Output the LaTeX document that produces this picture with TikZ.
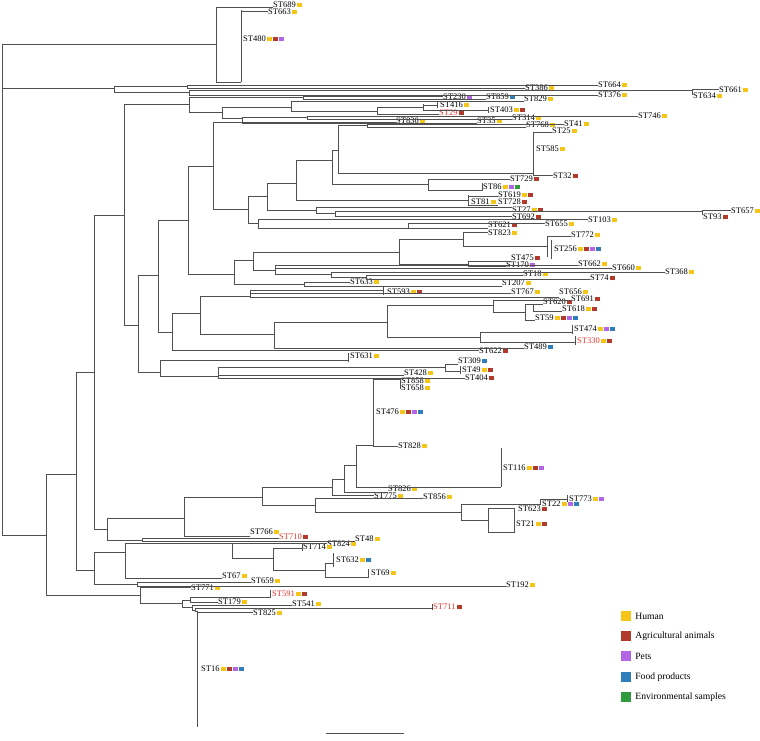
\documentclass[tikz,border=0pt]{standalone}
\usepackage{fontspec}
\setmainfont{Liberation Serif}
\usetikzlibrary{positioning}

\definecolor{human}{HTML}{F5C518}
\definecolor{agri}{HTML}{B23A2A}
\definecolor{pets}{HTML}{B266E6}
\definecolor{food}{HTML}{2F7DBA}
\definecolor{envi}{HTML}{2E9B3F}
\definecolor{strain}{HTML}{E5332A}
\definecolor{branch}{HTML}{505050}

\newcommand{\sqH}{\kern1.6pt\textcolor{human}{\rule[0.3pt]{4.4pt}{4.4pt}}}
\newcommand{\sqA}{\kern1.6pt\textcolor{agri}{\rule[0.3pt]{4.4pt}{4.4pt}}}
\newcommand{\sqP}{\kern1.6pt\textcolor{pets}{\rule[0.3pt]{4.4pt}{4.4pt}}}
\newcommand{\sqF}{\kern1.6pt\textcolor{food}{\rule[0.3pt]{4.4pt}{4.4pt}}}
\newcommand{\sqE}{\kern1.6pt\textcolor{envi}{\rule[0.3pt]{4.4pt}{4.4pt}}}

\tikzset{
  st/.style={anchor=west, inner sep=0pt, font=\fontsize{8.5}{9}\selectfont},
  stred/.style={st, text=strain},
  lg/.style={anchor=west, inner sep=0pt, font=\fontsize{9.6}{11}\selectfont},
  key/.style={minimum size=10pt, inner sep=0pt}
}

\begin{document}
\begin{tikzpicture}[x=1pt,y=-1pt]
\useasboundingbox (0,0) rectangle (760,741);

% tip labels
\node[st] (st689) at (273,5) {ST689\sqH};
\node[st] (st663) at (268,12) {ST663\sqH};
\node[st] (st480) at (243,39) {ST480\sqH\sqA\sqP};
\node[st] (st664) at (598,85) {ST664\sqH};
\node[st] (st386) at (525,88) {ST386\sqH};
\node[st] (st661) at (719,90) {ST661\sqH};
\node[st] (st634) at (693,96) {ST634\sqH};
\node[st] (st376) at (598,95) {ST376\sqH};
\node[st] (st230) at (443,96.5) {ST230\sqP};
\node[st] (st859) at (486,97) {ST859\sqF};
\node[st] (st829) at (524,99) {ST829\sqH};
\node[st] (st416) at (440,104.5) {ST416\sqH};
\node[st] (st403) at (490,110) {ST403\sqH\sqA};
\node[stred] (st29) at (439,113) {ST29\sqA};
\node[st] (st746) at (638,116) {ST746\sqH};
\node[st] (st314) at (512,118) {ST314\sqH};
\node[st] (st830) at (396,121) {ST830\sqH};
\node[st] (st35) at (477,121) {ST35\sqH};
\node[st] (st41) at (564,124) {ST41\sqH};
\node[st] (st768) at (526,125) {ST768\sqH};
\node[st] (st25) at (552,131) {ST25\sqH};
\node[st] (st585) at (536,149) {ST585\sqH};
\node[st] (st32) at (553,176) {ST32\sqA};
\node[st] (st729) at (510,179) {ST729\sqA};
\node[st] (st86) at (483,187) {ST86\sqH\sqP\sqE};
\node[st] (st619) at (498,194.5) {ST619\sqH\sqA};
\node[st] (st81) at (471,202) {ST81\sqH};
\node[st] (st728) at (498,202) {ST728\sqA};
\node[st] (st27) at (512,209.5) {ST27\sqH\sqA};
\node[st] (st692) at (512,216.5) {ST692\sqA};
\node[st] (st657) at (731,211) {ST657\sqH};
\node[st] (st93) at (703,217) {ST93\sqA};
\node[st] (st103) at (588,220) {ST103\sqH};
\node[st] (st655) at (545,224) {ST655\sqH};
\node[st] (st621) at (488,225) {ST621\sqA};
\node[st] (st823) at (488,233) {ST823\sqH};
\node[st] (st772) at (571,235) {ST772\sqH};
\node[st] (st256) at (554,249) {ST256\sqH\sqA\sqP\sqF};
\node[st] (st475) at (511,258) {ST475\sqA};
\node[st] (st170) at (506,265) {ST170\sqP};
\node[st] (st662) at (578,264) {ST662\sqH};
\node[st] (st660) at (612,268) {ST660\sqH};
\node[st] (st368) at (665,272) {ST368\sqH};
\node[st] (st18) at (523,274) {ST18\sqH};
\node[st] (st74) at (590,278) {ST74\sqA};
\node[st] (st633) at (350,282) {ST633\sqH};
\node[st] (st207) at (502,283) {ST207\sqH};
\node[st] (st593) at (387,292) {ST593\sqH\sqA};
\node[st] (st767) at (511,292) {ST767\sqH};
\node[st] (st656) at (559,292) {ST656\sqH};
\node[st] (st691) at (571,299) {ST691\sqA};
\node[st] (st620) at (543,302) {ST620\sqA};
\node[st] (st618) at (562,309) {ST618\sqH\sqA};
\node[st] (st59) at (535,318) {ST59\sqH\sqA\sqP\sqF};
\node[st] (st474) at (574,329) {ST474\sqH\sqP\sqF};
\node[stred] (st330) at (577,341) {ST330\sqH\sqA};
\node[st] (st489) at (524,347) {ST489\sqF};
\node[st] (st622) at (479,351) {ST622\sqA};
\node[st] (st631) at (350,356) {ST631\sqH};
\node[st] (st309) at (458,361) {ST309\sqF};
\node[st] (st49) at (462,370) {ST49\sqH\sqA};
\node[st] (st428) at (404,373) {ST428\sqH};
\node[st] (st404) at (465,378) {ST404\sqA};
\node[st] (st858) at (401,380.5) {ST858\sqH};
\node[st] (st658) at (401,387.5) {ST658\sqH};
\node[st] (st476) at (376,412) {ST476\sqH\sqA\sqP\sqF};
\node[st] (st828) at (398,446) {ST828\sqH};
\node[st] (st116) at (503,468) {ST116\sqH\sqA\sqP};
\node[st] (st826) at (388,489) {ST826\sqH};
\node[st] (st775) at (374,496) {ST775\sqH};
\node[st] (st856) at (423,497) {ST856\sqH};
\node[st] (st773) at (569,499) {ST773\sqH\sqP};
\node[st] (st22) at (542,504) {ST22\sqH\sqP\sqF};
\node[st] (st623) at (518,509) {ST623\sqA};
\node[st] (st21) at (516,524) {ST21\sqH\sqA};
\node[st] (st766) at (250,532) {ST766\sqH};
\node[stred] (st710) at (279,537) {ST710\sqA};
\node[st] (st48) at (355,539) {ST48\sqH};
\node[st] (st824) at (327,544) {ST824\sqH};
\node[st] (st714) at (303,547) {ST714\sqH};
\node[st] (st632) at (336,560) {ST632\sqH\sqF};
\node[st] (st69) at (371,573) {ST69\sqH};
\node[st] (st67) at (222,576) {ST67\sqH};
\node[st] (st659) at (251,581) {ST659\sqH};
\node[st] (st192) at (506,585) {ST192\sqH};
\node[st] (st771) at (191,588) {ST771\sqH};
\node[stred] (st591) at (272,594) {ST591\sqH\sqA};
\node[st] (st179) at (218,602) {ST179\sqH};
\node[st] (st541) at (292,604) {ST541\sqH};
\node[stred] (st711) at (433,607) {ST711\sqA};
\node[st] (st825) at (253,613) {ST825\sqH};
\node[st] (st16) at (201,669) {ST16\sqH\sqA\sqP\sqF};

\begin{scope}[draw=branch, line width=0.5pt]
% root and outer clades
\draw (2,44) -- (2,535);
\draw (2,44) -- (216,44);
\draw (2,88) -- (114,88);
\draw (2,535) -- (46,535);

\draw (216,7) -- (216,82);
\draw (216,7) -- (st689.west |- 0,7);
\draw (216,82) -- (241,82);
\draw (241,10) -- (241,82);
\draw (241,11) -- (st663.west |- 0,11);

\draw (114,86) -- (114,92);
\draw (114,86) -- (187,86);
\draw (187,85) -- (187,88);
\draw (187,85) -- (st664.west |- 0,85);
\draw (187,88) -- (st386.west |- 0,88);
\draw (114,92) -- (189,92);
\draw (189,90) -- (189,95);
\draw (189,90) -- (692,90);
\draw (692,89) -- (692,95);
\draw (692,89) -- (st661.west |- 0,89);
\draw (189,95) -- (st376.west |- 0,95);

% main backbone
\draw (46,474) -- (46,595);
\draw (46,474) -- (76,474);
\draw (76,372) -- (76,570);
\draw (76,372) -- (94,372);
\draw (94,215) -- (94,529);
\draw (94,215) -- (124,215);
\draw (124,104) -- (124,325);
\draw (124,104) -- (189,104);

% ST230 -- ST35
\draw (189,97) -- (189,112);
\draw (189,97) -- (303,97);
\draw (303,96) -- (303,99);
\draw (303,96) -- (st230.west |- 0,96);
\draw (303,99) -- (st859.west |- 0,99);
\draw (189,112) -- (222,112);
\draw (222,107) -- (222,118);
\draw (222,107) -- (291,107);
\draw (291,101) -- (291,111);
\draw (291,101) -- (st829.west |- 0,101);
\draw (291,111) -- (377,111);
\draw (377,107) -- (377,114);
\draw (377,107) -- (423,107);
\draw (423,104) -- (423,110);
\draw (423,105) -- (437,105);
\draw (437,102) -- (437,108);
\draw (423,110) -- (488,110);
\draw (488,107) -- (488,113);
\draw (377,114) -- (st29.west |- 0,114);
\draw (222,118) -- (242,118);
\draw (242,117) -- (242,123);
\draw (242,117) -- (307,117);
\draw (307,116) -- (307,119);
\draw (307,116) -- (st746.west |- 0,116);
\draw (307,119) -- (st314.west |- 0,119);
\draw (242,123) -- (st35.west |- 0,123);

% ST830 -- ST74
\draw (124,325) -- (138,325);
\draw (138,275) -- (138,372);
\draw (138,275) -- (158,275);
\draw (158,220) -- (158,332);
\draw (158,220) -- (188,220);
\draw (188,166) -- (188,274);
\draw (188,166) -- (213,166);
\draw (213,122) -- (213,209);
\draw (213,122) -- (st830.west |- 0,122);
\draw (213,209) -- (248,209);
\draw (248,196) -- (248,223);
\draw (248,196) -- (267,196);
\draw (267,183) -- (267,210);
\draw (267,183) -- (296,183);
\draw (296,160) -- (296,200);
\draw (296,160) -- (332,160);
\draw (332,150) -- (332,184);
\draw (332,150) -- (338,150);
\draw (338,125) -- (338,173);
\draw (338,125) -- (367,125);
\draw (367,124) -- (367,127);
\draw (367,124) -- (st41.west |- 0,124);
\draw (367,127) -- (st768.west |- 0,127);
\draw (338,173) -- (533,173);
\draw (533,132) -- (533,175);
\draw (533,132) -- (st25.west |- 0,132);
\draw (533,175) -- (st32.west |- 0,175);
\draw (332,184) -- (428,184);
\draw (428,179) -- (428,190);
\draw (428,179) -- (st729.west |- 0,179);
\draw (428,190) -- (482,190);
\draw (482,183) -- (482,191);
\draw (296,200) -- (468,200);
\draw (468,195) -- (468,205);
\draw (468,196) -- (st619.west |- 0,196);
\draw (468,205) -- (st728.west |- 0,205);
\draw (267,210) -- (316,210);
\draw (316,207) -- (316,213);
\draw (316,207) -- (st27.west |- 0,207);
\draw (316,213) -- (335,213);
\draw (335,211) -- (335,216);
\draw (335,211) -- (702,211);
\draw (702,210) -- (702,215);
\draw (702,210) -- (st657.west |- 0,210);
\draw (335,216) -- (st692.west |- 0,216);
\draw (248,223) -- (258,223);
\draw (258,219) -- (258,228);
\draw (258,219) -- (st103.west |- 0,219);
\draw (258,228) -- (408,228);
\draw (408,223) -- (408,228);
\draw (408,223) -- (st655.west |- 0,223);
\draw (408,228) -- (st621.west |- 0,228);
\draw (188,274) -- (234,274);
\draw (234,260) -- (234,284);
\draw (234,260) -- (253,260);
\draw (253,252) -- (253,270);
\draw (253,252) -- (399,252);
\draw (399,239) -- (399,264);
\draw (399,239) -- (463,239);
\draw (463,232) -- (463,246);
\draw (463,232) -- (st823.west |- 0,232);
\draw (463,246) -- (547,246);
\draw (547,236) -- (547,257);
\draw (551,240) -- (551,259);
\draw (547,236) -- (st772.west |- 0,236);
\draw (399,264) -- (468,264);
\draw (468,261) -- (468,266);
\draw (468,261) -- (st475.west |- 0,261);
\draw (468,266) -- (st170.west |- 0,266);
\draw (253,270) -- (275,270);
\draw (275,265) -- (275,274);
\draw (275,265) -- (st662.west |- 0,265);
\draw (275,268) -- (st660.west |- 0,268);
\draw (275,274) -- (331,274);
\draw (331,272) -- (331,277);
\draw (331,272) -- (st368.west |- 0,272);
\draw (331,277) -- (366,277);
\draw (366,275) -- (366,279);
\draw (366,275) -- (st18.west |- 0,275);
\draw (366,279) -- (st74.west |- 0,279);
\draw (234,284) -- (304,284);
\draw (304,282) -- (304,286);
\draw (304,282) -- (st633.west |- 0,282);
\draw (304,286) -- (st207.west |- 0,286);

% ST593 -- ST622
\draw (158,332) -- (172,332);
\draw (172,313) -- (172,350);
\draw (172,313) -- (200,313);
\draw (172,350) -- (st622.west |- 0,350);
\draw (200,296) -- (200,334);
\draw (200,296) -- (250,296);
\draw (250,290) -- (250,297);
\draw (250,290) -- (383,290);
\draw (383,287) -- (383,295);
\draw (250,293) -- (st767.west |- 0,293);
\draw (250,297) -- (st656.west |- 0,297);
\draw (200,334) -- (274,334);
\draw (274,322) -- (274,348);
\draw (274,322) -- (387,322);
\draw (274,348) -- (st489.west |- 0,348);
\draw (387,305) -- (387,337);
\draw (387,305) -- (493,305);
\draw (493,300) -- (493,312);
\draw (493,300) -- (st691.west |- 0,300);
\draw (493,312) -- (525,312);
\draw (525,304) -- (525,320);
\draw (525,304) -- (533,304);
\draw (533,304) -- (533,311);
\draw (533,304) -- (st620.west |- 0,304);
\draw (533,311) -- (st618.west |- 0,311);
\draw (525,320) -- (st59.west |- 0,320);
\draw (387,337) -- (480,337);
\draw (480,332) -- (480,342);
\draw (480,332) -- (572,332);
\draw (572,325) -- (572,334);
\draw (480,342) -- (575,342);
\draw (575,336) -- (575,345);

% ST631 -- ST658
\draw (138,372) -- (160,372);
\draw (160,360) -- (160,376);
\draw (160,360) -- (348,360);
\draw (348,353) -- (348,362);
\draw (160,376) -- (218,376);
\draw (218,367) -- (218,378);
\draw (218,367) -- (445,367);
\draw (445,364) -- (445,371);
\draw (445,364) -- (st309.west |- 0,364);
\draw (445,371) -- (460,371);
\draw (460,366) -- (460,374);
\draw (218,375) -- (st428.west |- 0,375);
\draw (218,378) -- (st404.west |- 0,378);
\draw (373,379) -- (373,446);
\draw (373,379) -- (st858.west |- 0,379);
\draw (400,379) -- (400,389);

% ST828 -- ST48
\draw (94,529) -- (107,529);
\draw (107,518) -- (107,540);
\draw (107,518) -- (184,518);
\draw (184,497) -- (184,536);
\draw (184,497) -- (262,497);
\draw (184,536) -- (st766.west |- 0,536);
\draw (262,487) -- (262,505);
\draw (262,487) -- (332,487);
\draw (332,479) -- (332,495);
\draw (332,479) -- (344,479);
\draw (344,465) -- (344,492);
\draw (344,465) -- (356,465);
\draw (356,445) -- (356,487);
\draw (356,445) -- (373,445);
\draw (373,446) -- (st828.west |- 0,446);
\draw (356,487) -- (501,487);
\draw (501,448) -- (501,487);
\draw (344,492) -- (st826.west |- 0,492);
\draw (332,495) -- (st775.west |- 0,495);
\draw (262,505) -- (315,505);
\draw (315,498) -- (315,512);
\draw (315,498) -- (st856.west |- 0,498);
\draw (315,512) -- (461,512);
\draw (461,504) -- (461,520);
\draw (461,504) -- (540,504);
\draw (540,499) -- (540,505);
\draw (540,499) -- (567,499);
\draw (567,495) -- (567,502);
\draw (461,520) -- (488,520);
\draw (488,508) -- (488,532);
\draw (488,508) -- (514,508);
\draw (488,532) -- (514,532);
\draw (514,508) -- (514,533);
\draw (107,540) -- (142,540);
\draw (142,538) -- (142,541);
\draw (142,538) -- (st710.west |- 0,538);
\draw (142,541) -- (st48.west |- 0,541);

% ST824 -- ST192
\draw (76,570) -- (94,570);
\draw (94,552) -- (94,584);
\draw (94,552) -- (125,552);
\draw (125,543) -- (125,578);
\draw (125,543) -- (232,543);
\draw (232,543) -- (232,558);
\draw (232,543) -- (st824.west |- 0,543);
\draw (232,558) -- (273,558);
\draw (273,548) -- (273,570);
\draw (273,548) -- (302,548);
\draw (302,544) -- (302,551);
\draw (273,570) -- (325,570);
\draw (325,563) -- (325,577);
\draw (325,563) -- (333,563);
\draw (333,553) -- (333,567);
\draw (325,577) -- (368,577);
\draw (368,569) -- (368,578);
\draw (125,578) -- (st67.west |- 0,578);
\draw (94,584) -- (137,584);
\draw (137,582) -- (137,586);
\draw (137,582) -- (st659.west |- 0,582);
\draw (137,586) -- (st192.west |- 0,586);

% ST771 -- ST16
\draw (46,595) -- (140,595);
\draw (140,587) -- (140,603);
\draw (140,587) -- (st771.west |- 0,587);
\draw (140,603) -- (182,603);
\draw (182,600) -- (182,607);
\draw (182,600) -- (190,600);
\draw (190,597) -- (190,602);
\draw (190,597) -- (270,597);
\draw (270,590) -- (270,598);
\draw (190,602) -- (st179.west |- 0,602);
\draw (182,607) -- (192,607);
\draw (192,605) -- (192,610);
\draw (192,605) -- (st541.west |- 0,605);
\draw (192,610) -- (195,610);
\draw (195,608) -- (195,611);
\draw (195,608) -- (432,608);
\draw (432,604) -- (432,610);
\draw (195,611) -- (197,611);
\draw (197,611) -- (197,727);
\draw (197,612) -- (st825.west |- 0,612);

% scale bar
\draw (326,733) -- (404,733);
\end{scope}

% legend
\node[key, fill=human] (kHum) at (626,616) {};
\node[key, fill=agri] (kAgr) at (626,636) {};
\node[key, fill=pets] (kPet) at (626,656) {};
\node[key, fill=food] (kFood) at (626,677) {};
\node[key, fill=envi] (kEnv) at (626,697) {};
\node[lg, right=4pt of kHum] (lHum) {Human};
\node[lg, right=4pt of kAgr] (lAgr) {Agricultural animals};
\node[lg, right=4pt of kPet] (lPet) {Pets};
\node[lg, right=4pt of kFood] (lFood) {Food products};
\node[lg, right=4pt of kEnv] (lEnv) {Environmental samples};

\end{tikzpicture}
\end{document}
